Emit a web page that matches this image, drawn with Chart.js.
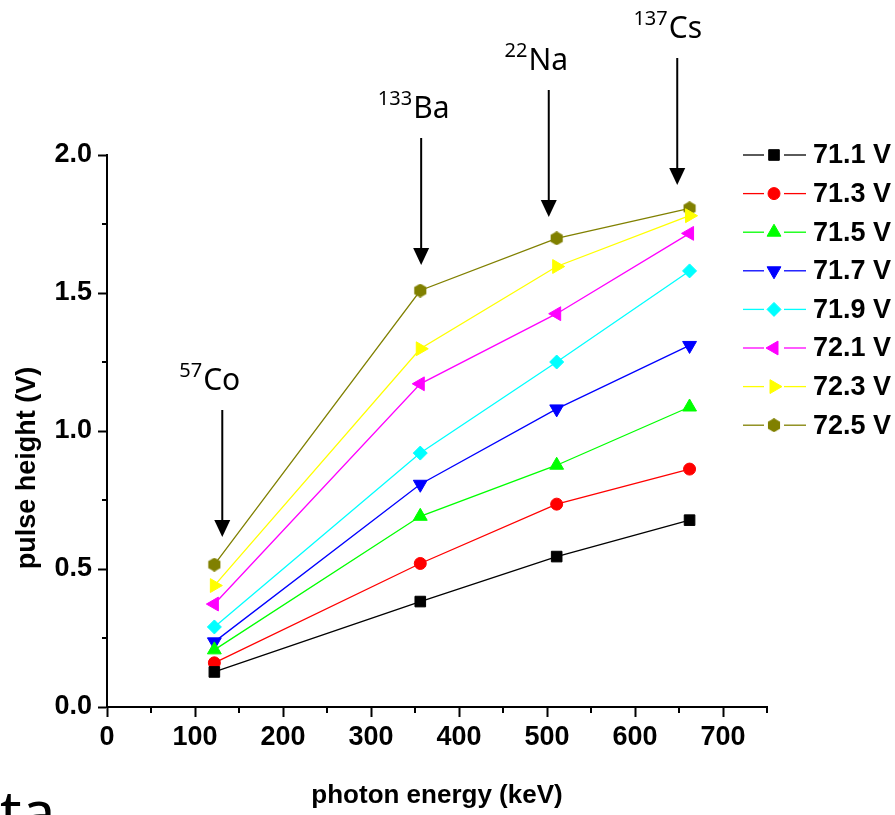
<!DOCTYPE html>
<html>
<head>
<meta charset="utf-8">
<style>
  body { margin: 0; background: #fff; }
  #wrap { width: 895px; height: 815px; }
</style>
</head>
<body>
<div id="wrap">
    <canvas id="myChart" width="895" height="815"></canvas>
</div>

<script src="https://cdn.jsdelivr.net/npm/chart.js"></script>

<script>
    // photon energies of the sources (keV)
    const energies = [122, 356, 511, 662];
    // pulse height (V) per bias voltage
    const v711 = [0.127, 0.382, 0.545, 0.677];
    const v713 = [0.160, 0.520, 0.735, 0.862];
    const v715 = [0.207, 0.691, 0.876, 1.087];
    const v717 = [0.236, 0.807, 1.080, 1.310];
    const v719 = [0.290, 0.920, 1.250, 1.580];
    const v721 = [0.373, 1.171, 1.425, 1.716];
    const v723 = [0.440, 1.298, 1.596, 1.780];
    const v725 = [0.516, 1.509, 1.698, 1.807];
    const seriesLabels = ['71.1 V', '71.3 V', '71.5 V', '71.7 V', '71.9 V', '72.1 V', '72.3 V', '72.5 V'];
    const xTicks = [0, 100, 200, 300, 400, 500, 600, 700];
    const yTicks = [0, 0.5, 1.0, 1.5, 2.0];
    const sourceSup = ['57', '133', '22', '137'];
    const sourceEl = ['Co', 'Ba', 'Na', 'Cs'];
    const sourceArrowX = [131, 357, 502, 648];

    const ctx = document.getElementById('myChart');
    const FONT = '"Liberation Sans", Arial, sans-serif';
    const NOTE_FONT = '"Noto Sans", "DejaVu Sans", sans-serif';

    function hexagon(size, color) {
        const c = document.createElement('canvas');
        c.width = size; c.height = size;
        const g = c.getContext('2d');
        const r = size / 2;
        g.fillStyle = color;
        g.beginPath();
        for (let i = 0; i < 6; i++) {
            const a = -Math.PI / 2 + i * Math.PI / 3;
            const px = r + r * Math.cos(a), py = r + r * Math.sin(a);
            if (i === 0) g.moveTo(px, py); else g.lineTo(px, py);
        }
        g.closePath();
        g.fill();
        return c;
    }

    const styles = [
        { color: '#000000', pointStyle: 'rect', radius: 7.5, rotation: 0 },
        { color: '#ff0000', pointStyle: 'circle', radius: 6, rotation: 0 },
        { color: '#00ff00', pointStyle: 'triangle', radius: 8, rotation: 0 },
        { color: '#0000ff', pointStyle: 'triangle', radius: 8, rotation: 180 },
        { color: '#00ffff', pointStyle: 'rectRot', radius: 7, rotation: 0 },
        { color: '#ff00ff', pointStyle: 'triangle', radius: 8, rotation: 270 },
        { color: '#ffff00', pointStyle: 'triangle', radius: 8, rotation: 90 },
        { color: '#808000', pointStyle: hexagon(14, '#808000'), radius: 7, rotation: 0 }
    ];
    const values = [v711, v713, v715, v717, v719, v721, v723, v725];

    const datasets = values.map((vals, i) => ({
        label: seriesLabels[i],
        data: energies.map((e, j) => ({ x: e, y: vals[j] })),
        borderColor: styles[i].color,
        backgroundColor: styles[i].color,
        borderWidth: 1.3,
        pointStyle: styles[i].pointStyle,
        pointRadius: styles[i].radius,
        pointRotation: styles[i].rotation,
        pointBorderWidth: 1,
        pointBorderColor: styles[i].color,
        pointBackgroundColor: styles[i].color,
        tension: 0
    }));

    const extras = {
        id: 'extras',
        afterDraw(chart) {
            const c = chart.ctx;
            const xs = chart.scales.x, ys = chart.scales.y;
            const area = chart.chartArea;
            c.save();
            // minor ticks
            c.strokeStyle = '#000';
            c.lineWidth = 2;
            for (let v = 50; v <= 750; v += 100) {
                const px = xs.getPixelForValue(v);
                c.beginPath(); c.moveTo(px, area.bottom); c.lineTo(px, area.bottom + 6); c.stroke();
            }
            for (let v = 0.25; v < 2; v += 0.5) {
                const py = ys.getPixelForValue(v);
                c.beginPath(); c.moveTo(area.left, py); c.lineTo(area.left - 5, py); c.stroke();
            }

            // y axis title
            c.save();
            c.translate(28, 468);
            c.rotate(-Math.PI / 2);
            c.fillStyle = '#000';
            c.font = 'bold 27px ' + FONT;
            c.textAlign = 'center';
            c.textBaseline = 'middle';
            c.fillText('pulse height (V)', 0, 0);
            c.restore();

            // custom legend: line - marker - line, label
            const lx = 743, top = 155, step = 38.6;
            chart.data.datasets.forEach((ds, i) => {
                const y = top + i * step;
                c.strokeStyle = ds.borderColor;
                c.lineWidth = 1.3;
                c.beginPath(); c.moveTo(lx, y); c.lineTo(lx + 21, y); c.stroke();
                c.beginPath(); c.moveTo(lx + 41, y); c.lineTo(lx + 63, y); c.stroke();
                c.fillStyle = ds.borderColor;
                c.lineWidth = 1;
                Chart.helpers.drawPoint(c, {
                    pointStyle: ds.pointStyle, rotation: ds.pointRotation,
                    radius: ds.pointRadius, borderWidth: 1
                }, lx + 31, y);
                c.fillStyle = '#000';
                c.font = 'bold 27px ' + FONT;
                c.textAlign = 'left';
                c.textBaseline = 'middle';
                c.fillText(ds.label, lx + 70, y + 1);
            });

            // source annotations with arrows
            const textOffset = [-13, -8, -13, -10];
            const tipPx = [537, 265, 217, 185];
            sourceEl.forEach((el, i) => {
                const ax = xs.getPixelForValue(sourceArrowX[i]);
                const tip = tipPx[i];
                const topY = tip - 127;
                c.strokeStyle = '#000';
                c.fillStyle = '#000';
                c.lineWidth = 2;
                c.beginPath(); c.moveTo(ax, topY); c.lineTo(ax, tip - 14); c.stroke();
                c.beginPath();
                c.moveTo(ax, tip); c.lineTo(ax - 8, tip - 17); c.lineTo(ax + 8, tip - 17); c.closePath();
                c.fill();
                // label
                const base = topY - 20;
                c.font = '20px ' + NOTE_FONT;
                const ws = c.measureText(sourceSup[i]).width;
                c.font = '30px ' + NOTE_FONT;
                const we = c.measureText(el).width;
                const sx = ax + textOffset[i] - (ws + we) / 2;
                c.textAlign = 'left';
                c.textBaseline = 'alphabetic';
                c.font = '20px ' + NOTE_FONT;
                c.fillText(sourceSup[i], sx, base - 13);
                c.font = '30px ' + NOTE_FONT;
                c.fillText(el, sx + ws + 1, base);
            });

            // cut-off slide text at the bottom-left corner
            c.font = '60px ' + NOTE_FONT;
            c.textAlign = 'left';
            c.textBaseline = 'alphabetic';
            c.fillText('ta', 0, 834);
            c.restore();
        }
    };

    const config = {
        type: 'line',
        data: { datasets: datasets },
        options: {
            responsive: false,
            animation: false,
            devicePixelRatio: 1,
            layout: { padding: { left: 0, right: 128, top: 155, bottom: 0 } },
            plugins: {
                legend: { display: false },
                tooltip: { enabled: false }
            },
            scales: {
                x: {
                    type: 'linear',
                    min: 0,
                    max: 750,
                    afterBuildTicks: s => { s.ticks = xTicks.map(v => ({ value: v })); },
                    afterFit: s => { s.height = 108; },
                    grid: { drawOnChartArea: false, tickLength: 10, tickWidth: 2, tickColor: '#000' },
                    border: { color: '#000', width: 2 },
                    ticks: {
                        color: '#000',
                        padding: 4,
                        maxRotation: 0,
                        font: { family: FONT, weight: 'bold', size: 27 },
                        callback: v => String(v)
                    },
                    title: {
                        display: true,
                        text: 'photon energy (keV)',
                        color: '#000',
                        font: { family: FONT, weight: 'bold', size: 26 },
                        padding: { top: 0, bottom: 4 }
                    }
                },
                y: {
                    type: 'linear',
                    min: 0,
                    max: 2,
                    afterBuildTicks: s => { s.ticks = yTicks.map(v => ({ value: v })); },
                    afterFit: s => { s.width = 107; },
                    grid: { drawOnChartArea: false, tickLength: 9, tickWidth: 2, tickColor: '#000' },
                    border: { color: '#000', width: 2 },
                    ticks: {
                        color: '#000',
                        padding: 6,
                        font: { family: FONT, weight: 'bold', size: 27 },
                        callback: v => v.toFixed(1)
                    },
                    title: { display: false }
                }
            }
        },
        plugins: [extras]
    };

    new Chart(ctx, config);
</script>
</body>
</html>
